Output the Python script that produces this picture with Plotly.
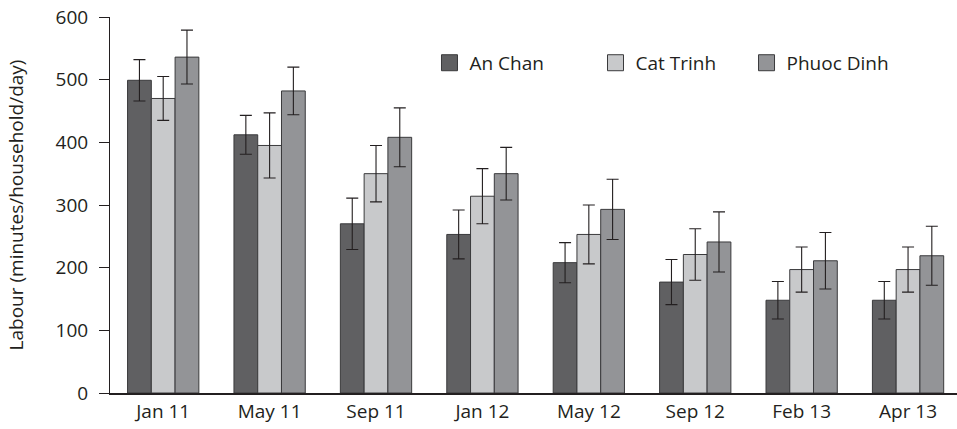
import plotly.graph_objects as go

categories = ["Jan 11", "May 11", "Sep 11", "Jan 12", "May 12", "Sep 12", "Feb 13", "Apr 13"]
series_names = ["An Chan", "Cat Trinh", "Phuoc Dinh"]
an_chan = [499, 412, 270, 253, 208, 177, 148, 148]
an_chan_err = [33, 31, 41, 39, 32, 36, 30, 30]
cat_trinh = [470, 395, 350, 314, 253, 221, 197, 197]
cat_trinh_err = [35, 52, 45, 44, 47, 41, 36, 36]
phuoc_dinh = [536, 482, 408, 350, 293, 241, 211, 219]
phuoc_dinh_err = [43, 38, 47, 42, 48, 48, 45, 47]
y_ticks = [0, 100, 200, 300, 400, 500, 600]

colors = ["#606062", "#c8c9cb", "#939497"]
ink = "#231f20"
font_family = "Open Sans, Noto Sans, sans-serif"

values = [an_chan, cat_trinh, phuoc_dinh]
errors = [an_chan_err, cat_trinh_err, phuoc_dinh_err]
legend_ids = ["legend", "legend2", "legend3"]
legend_x = [0.3772, 0.5732, 0.7515]

fig = go.Figure()
for name, vals, errs, col in zip(series_names, values, errors, colors):
    fig.add_trace(go.Bar(
        x=categories, y=vals, name=name, showlegend=False,
        marker=dict(color=col, line=dict(color="#3a3a3c", width=1)),
        error_y=dict(type="data", array=errs, visible=True,
                     color=ink, thickness=1.1, width=6),
    ))
# legend entries with larger square swatches
for name, col, lid in zip(series_names, colors, legend_ids):
    fig.add_trace(go.Scatter(
        x=[None], y=[None], mode="markers", name=name, legend=lid,
        marker=dict(symbol="square", size=16, color=col,
                    line=dict(color="#3a3a3c", width=1)),
    ))

legend_common = dict(orientation="h", y=0.878, xanchor="left", yanchor="middle",
                     font=dict(size=19, color=ink), itemsizing="trace",
                     bgcolor="rgba(0,0,0,0)")
fig.update_layout(
    width=957, height=429,
    margin=dict(l=110, r=0, t=17, b=36, autoexpand=False),
    paper_bgcolor="white", plot_bgcolor="white",
    font=dict(family=font_family, size=19, color=ink),
    barmode="group", bargap=0.33, bargroupgap=0,
    legend=dict(x=legend_x[0], **legend_common),
    legend2=dict(x=legend_x[1], **legend_common),
    legend3=dict(x=legend_x[2], **legend_common),
    xaxis=dict(range=[-0.5, 7.46], showline=True, linecolor=ink, linewidth=1.5,
               ticks="", tickfont=dict(size=19), showgrid=False, zeroline=False,
               ticklabelstandoff=0),
    yaxis=dict(range=[0, 600], tickvals=y_ticks, showline=True, linecolor=ink,
               linewidth=1, ticks="outside", ticklen=10, tickcolor=ink,
               tickfont=dict(size=19), showgrid=False, zeroline=False,
               ticklabelstandoff=7, ticklabeloverflow="allow",
               title=dict(text="Labour (minutes/household/day)", font=dict(size=19), standoff=26)),
)

fig.write_html("out.html",
               config={"displayModeBar": False},
               post_script="document.body.style.margin='0';document.body.style.overflow='hidden';")
